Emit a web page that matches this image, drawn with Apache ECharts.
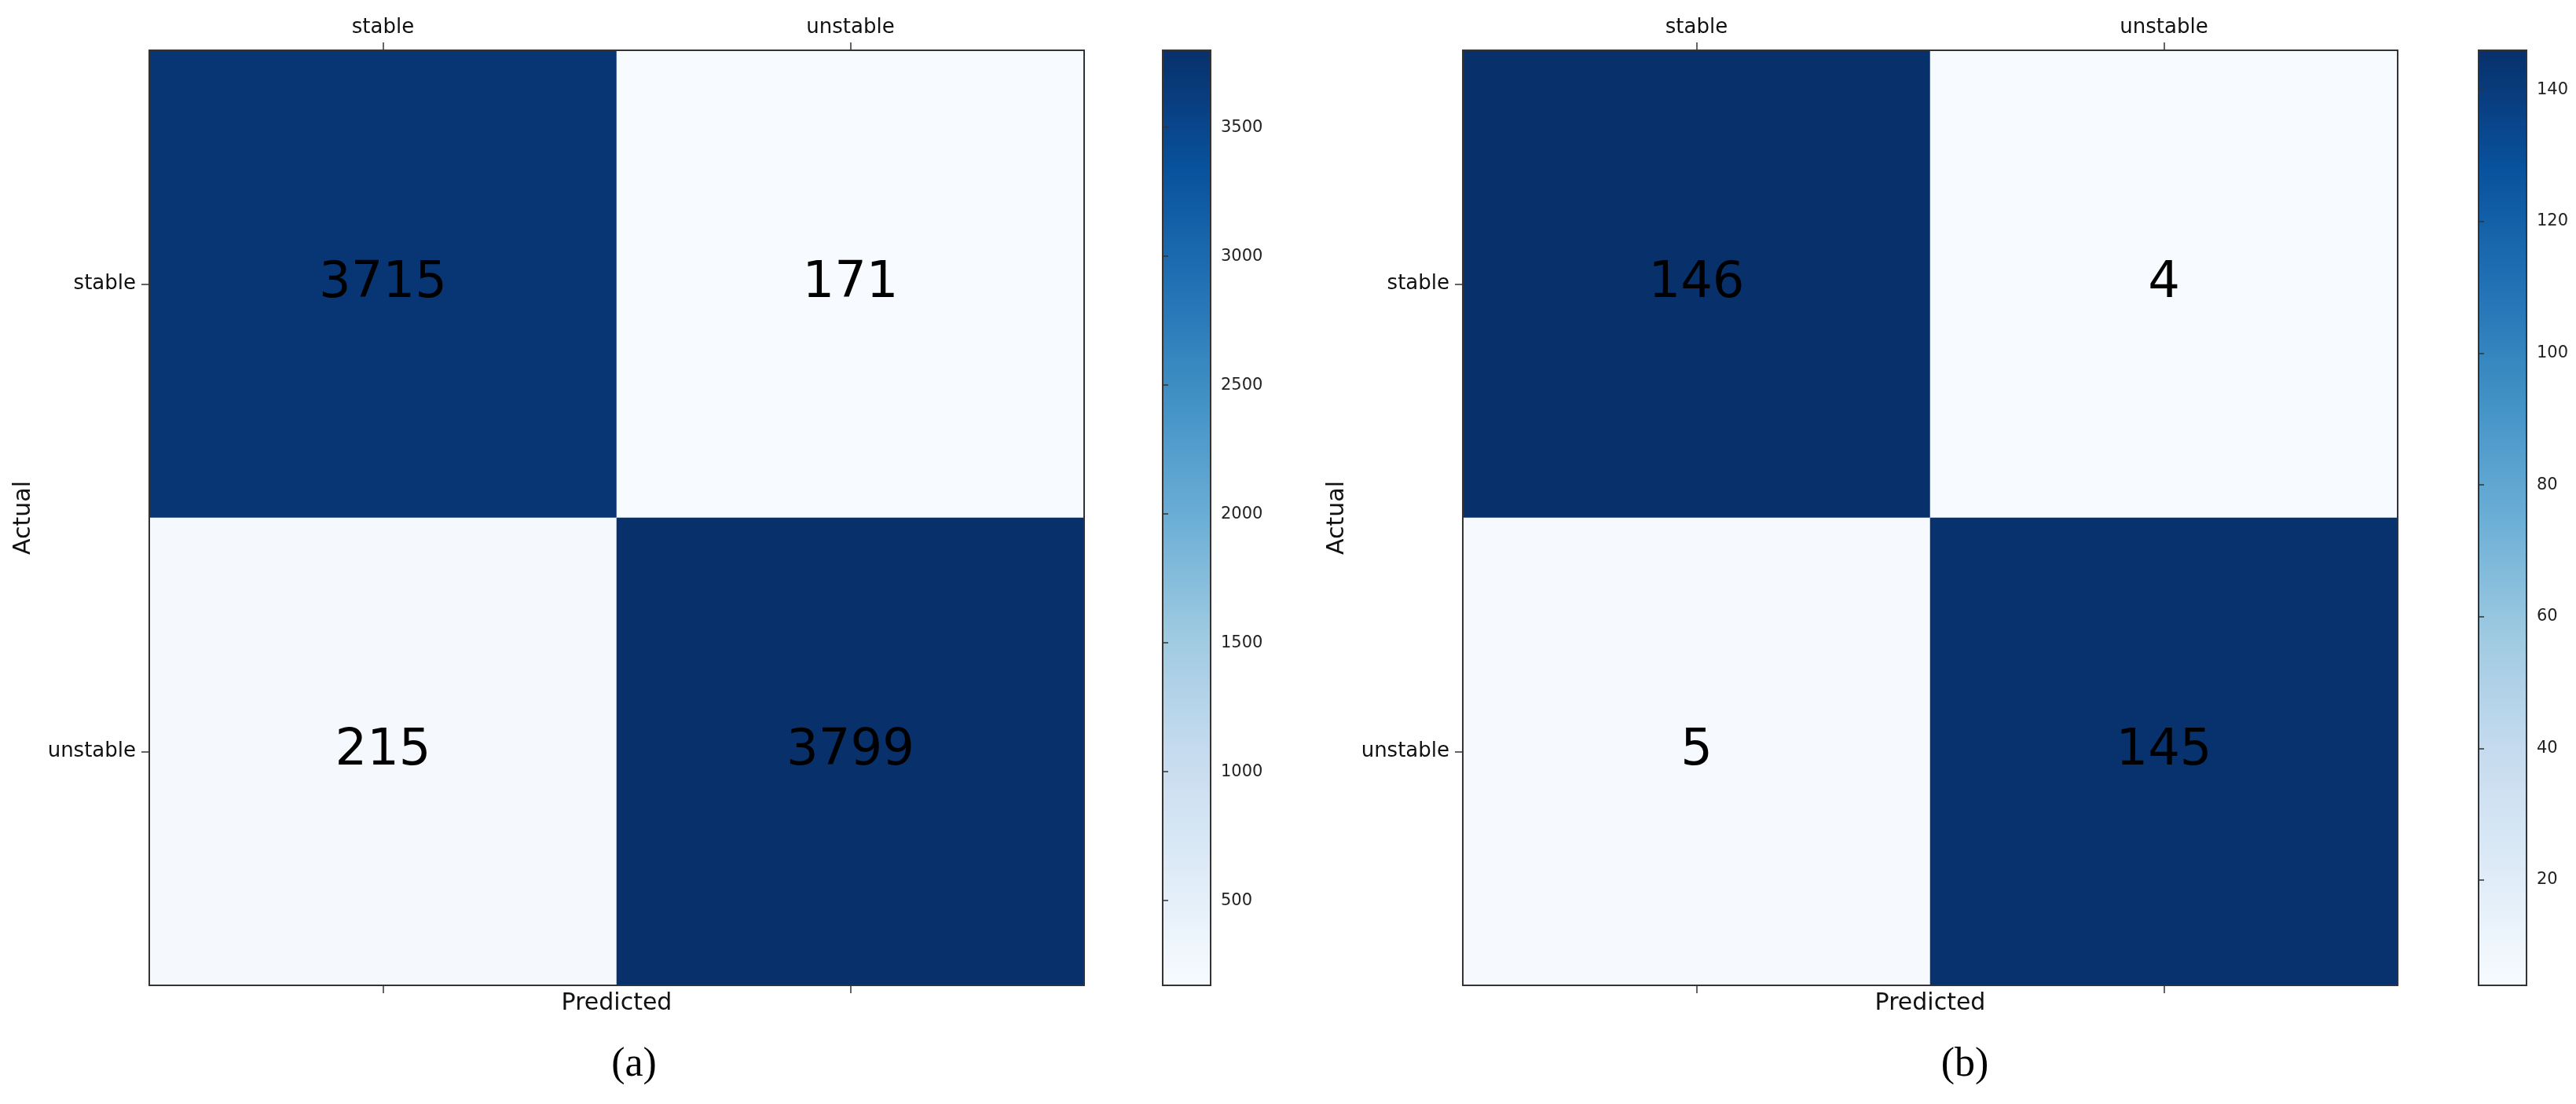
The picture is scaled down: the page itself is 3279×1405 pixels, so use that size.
<!DOCTYPE html>
<html>
<head>
<meta charset="utf-8">
<title>confusion matrices</title>
<script src="https://cdn.jsdelivr.net/npm/echarts@6/dist/echarts.min.js"></script>
<style>
  html, body { margin: 0; padding: 0; background: #fff; }
  #main { width: 3279px; height: 1405px; }
</style>
</head>
<body>
<div id="main"></div>
<script>
// class labels, rows = actual, columns = predicted
const categories = ['stable', 'unstable'];
const matrixA = [[3715, 171], [215, 3799]];
const matrixB = [[146, 4], [5, 145]];
// colorbar ticks
const ticksA = [500, 1000, 1500, 2000, 2500, 3000, 3500];
const ticksB = [20, 40, 60, 80, 100, 120, 140];
const captions = ['(a)', '(b)'];

// matplotlib "Blues"
const blues = ['#f7fbff', '#deebf7', '#c6dbef', '#9ecae1', '#6baed6', '#4292c6', '#2171b5', '#08519c', '#08306b'];
const FONT = '"DejaVu Sans", sans-serif';

function cells(m) {
  let out = [];
  for (let r = 0; r < m.length; r++) {
    for (let c = 0; c < m[r].length; c++) {
      out.push([c, r, m[r][c]]);
    }
  }
  return out;
}
function range(m) {
  let all = [].concat(...m);
  return [Math.min(...all), Math.max(...all)];
}

let chart = echarts.init(document.getElementById('main'));

let panels = [
  { m: matrixA, ticks: ticksA, left: 190, barLeft: 1480, capX: 807 },
  { m: matrixB, ticks: ticksB, left: 1862, barLeft: 3155, capX: 2501 }
];
const TOP = 64, SIZE = 1190, BAR_W = 61;

let grid = [], xAxis = [], yAxis = [], series = [], visualMap = [], graphic = [];

panels.forEach((p, i) => {
  let [vmin, vmax] = range(p.m);
  let g = grid.length;
  grid.push({ left: p.left, top: TOP, width: SIZE, height: SIZE });
  grid.push({ left: p.barLeft, top: TOP, width: BAR_W, height: SIZE });

  let lineStyle = { color: '#333', width: 2 };
  let label = { color: '#111', fontSize: 26, fontFamily: FONT };

  // heatmap axes: top with labels, bottom with name, left with labels, right just a line
  let xi = xAxis.length;
  xAxis.push({
    type: 'category', gridIndex: g, position: 'top', data: categories, z: 10,
    axisLine: { show: true, lineStyle: lineStyle },
    axisTick: { show: true, alignWithLabel: true, length: 10, lineStyle: { color: '#333', width: 1.5 } },
    axisLabel: Object.assign({ margin: 16 }, label),
    splitArea: { show: false }
  });
  xAxis.push({
    type: 'category', gridIndex: g, position: 'bottom', data: categories, z: 10,
    name: 'Predicted', nameLocation: 'middle', nameGap: 8,
    nameTextStyle: { color: '#111', fontSize: 30, fontFamily: FONT, verticalAlign: 'top' },
    axisLine: { show: true, lineStyle: lineStyle },
    axisTick: { show: true, alignWithLabel: true, length: 10, lineStyle: { color: '#333', width: 1.5 } },
    axisLabel: { show: false }
  });
  xAxis.push({ type: 'value', gridIndex: g + 1, min: 0, max: 1, show: false });

  let yi = yAxis.length;
  yAxis.push({
    type: 'category', gridIndex: g, position: 'left', data: categories, inverse: true, z: 10,
    name: 'Actual', nameLocation: 'middle', nameGap: 145, nameRotate: 90,
    nameTextStyle: { color: '#111', fontSize: 30, fontFamily: FONT },
    axisLine: { show: true, lineStyle: lineStyle },
    axisTick: { show: true, alignWithLabel: true, length: 10, lineStyle: { color: '#333', width: 1.5 } },
    axisLabel: Object.assign({ margin: 17 }, label)
  });
  yAxis.push({
    type: 'category', gridIndex: g, position: 'right', data: categories, inverse: true, z: 10,
    axisLine: { show: true, lineStyle: lineStyle },
    axisTick: { show: false }, axisLabel: { show: false }
  });
  // colorbar scale
  yAxis.push({
    type: 'value', gridIndex: g + 1, position: 'right', min: vmin, max: vmax, z: 10,
    axisLine: { show: false },
    splitLine: { show: false },
    axisTick: { show: true, length: 7, customValues: p.ticks, lineStyle: { color: '#333', width: 1.5 } },
    axisLabel: {
      margin: 13, customValues: p.ticks, color: '#222', fontSize: 21, fontFamily: FONT,
      formatter: v => String(v)
    }
  });

  series.push({
    type: 'heatmap', name: 'cm' + i, xAxisIndex: xi, yAxisIndex: yi,
    data: cells(p.m),
    label: { show: true, color: '#000', fontSize: 64, fontFamily: FONT },
    itemStyle: { borderWidth: 0 },
    emphasis: { disabled: true }
  });
  visualMap.push({
    show: false, type: 'continuous', seriesIndex: series.length - 1,
    min: vmin, max: vmax, inRange: { color: blues }
  });

  // colorbar body: one gradient rect spanning vmin..vmax
  series.push({
    type: 'custom', xAxisIndex: xi + 2, yAxisIndex: yi + 2, silent: true,
    data: [[0, vmin, 1, vmax]],
    renderItem: function (params, api) {
      let p0 = api.coord([api.value(0), api.value(3)]);
      let p1 = api.coord([api.value(2), api.value(1)]);
      // top of the rect is the dark end
      let stops = blues.map((c, k) => ({ offset: 1 - k / (blues.length - 1), color: c })).reverse();
      return {
        type: 'rect',
        shape: { x: p0[0], y: p0[1], width: p1[0] - p0[0], height: p1[1] - p0[1] },
        style: {
          fill: new echarts.graphic.LinearGradient(0, 0, 0, 1, stops),
          stroke: '#333', lineWidth: 2
        }
      };
    }
  });

  graphic.push({
    type: 'text', x: p.capX, y: 1355,
    style: { text: captions[i], align: 'center', verticalAlign: 'middle', fontSize: 52, fontFamily: '"Liberation Serif", serif', fill: '#000' }
  });
});

chart.setOption({
  backgroundColor: '#fff',
  animation: false,
  grid: grid,
  xAxis: xAxis,
  yAxis: yAxis,
  visualMap: visualMap,
  series: series,
  graphic: graphic
});
</script>
</body>
</html>
